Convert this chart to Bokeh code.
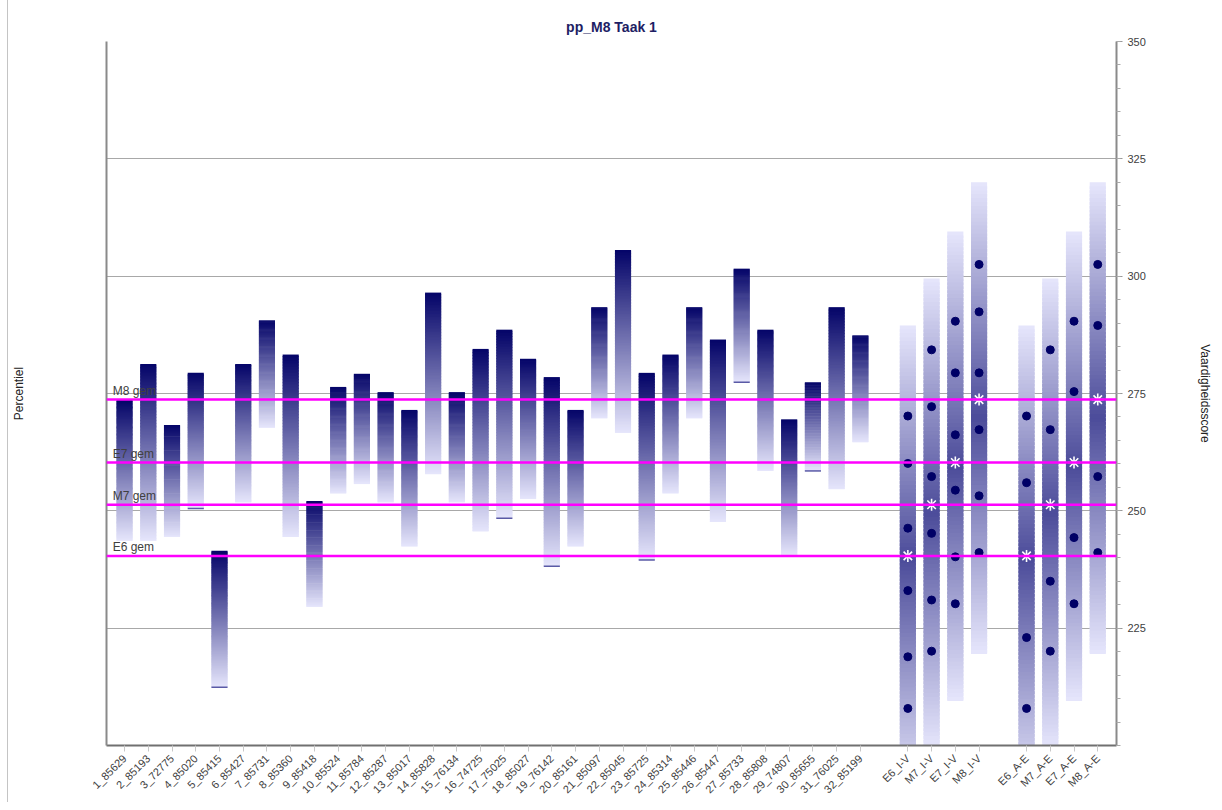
import math
from bokeh.plotting import figure
from bokeh.models import FixedTicker, LinearAxis, Range1d, Span
from bokeh.embed import file_html
from bokeh.resources import INLINE
from bokeh.core.properties import value

# ---------------- data ----------------
students = ["1_85629", "2_85193", "3_72775", "4_85020", "5_85415", "6_85427", "7_85731", "8_85360",
            "9_85418", "10_85524", "11_85784", "12_85287", "13_85017", "14_85828", "15_76134", "16_74725",
            "17_75025", "18_85027", "19_76142", "20_85161", "21_85097", "22_85045", "23_85725", "24_85314",
            "25_85446", "26_85447", "27_85733", "28_85808", "29_74807", "30_85655", "31_76025", "32_85199"]
student_top = [273.6, 281.3, 268.3, 279.4, 241.5, 281.3, 290.6, 283.3,
               252.1, 276.4, 279.2, 275.3, 271.5, 296.5, 275.3, 284.5,
               288.6, 282.4, 278.5, 271.5, 293.4, 305.6, 279.4, 283.3,
               293.4, 286.5, 301.6, 288.6, 269.5, 277.4, 293.4, 287.4]
student_bottom = [243.6, 243.6, 244.4, 250.5, 212.4, 251.8, 267.7, 244.4,
                  229.5, 253.7, 255.7, 251.8, 242.4, 257.8, 251.8, 245.6,
                  248.4, 252.5, 238.2, 242.4, 269.7, 266.6, 239.5, 253.7,
                  269.7, 247.6, 277.4, 258.5, 240.4, 258.5, 254.6, 264.6]
student_base_mark = [False, False, False, True, True, False, False, False,
                     False, False, False, False, False, False, False, False,
                     True, False, True, False, False, False, True, False,
                     False, False, True, False, False, True, False, False]

groups_iv = ["E6_I-V", "M7_I-V", "E7_I-V", "M8_I-V"]
groups_ae = ["E6_A-E", "M7_A-E", "E7_A-E", "M8_A-E"]
group_top = [289.5, 299.5, 309.5, 320.0, 289.5, 299.5, 309.5, 320.0]
group_bottom = [190.0, 199.5, 209.5, 219.5, 190.0, 199.5, 209.5, 219.5]
group_dots = [
    [270.2, 260.1, 246.3, 233.0, 218.9, 207.9],
    [284.3, 272.2, 257.3, 245.2, 231.0, 220.1],
    [290.4, 279.4, 266.2, 254.4, 240.2, 230.2],
    [302.5, 292.4, 279.4, 267.3, 253.2, 241.1],
    [270.2, 256.0, 223.0, 207.9],
    [284.3, 267.3, 235.0, 220.1],
    [290.4, 275.4, 244.3, 230.2],
    [302.5, 289.5, 257.3, 241.1],
]
group_level = ["E6", "M7", "E7", "M8", "E6", "M7", "E7", "M8"]

mean_labels = ["M8 gem", "E7 gem", "M7 gem", "E6 gem"]
mean_values = [273.7, 260.3, 251.3, 240.4]

y_ticks = [225, 250, 275, 300, 325, 350]

# ---------------- positions (categorical slots, one empty slot between blocks) ----------------
x_student = [i + 1 for i in range(len(students))]
x_iv = [len(students) + 2 + i for i in range(len(groups_iv))]
x_ae = [x_iv[-1] + 2 + i for i in range(len(groups_ae))]
x_groups = x_iv + x_ae
group_names = groups_iv + groups_ae
mean_of = {lab.split()[0]: v for lab, v in zip(mean_labels, mean_values)}

BW = 0.68

def lerp(c1, c2, t):
    return "#%02x%02x%02x" % tuple(int(round(a + (b - a) * t)) for a, b in zip(c1, c2))

DARK = (4, 4, 104)
LIGHT = (230, 230, 252)
GMID = (76, 76, 154)

def gradient_slices(xs, tops, bots, colour_of_t, n=120):
    L, R, T, B, C = [], [], [], [], []
    for x, top, bot in zip(xs, tops, bots):
        h = (top - bot) / n
        for k in range(n):
            L.append(x - BW / 2); R.append(x + BW / 2)
            T.append(top - k * h)
            B.append(max(bot, top - (k + 1.7) * h))
            C.append(colour_of_t((k + 0.5) / n))
    return dict(left=L, right=R, top=T, bottom=B, fill_color=C)

p = figure(width=1214, height=802, x_range=Range1d(0.24, 42.79), y_range=Range1d(200, 350),
           output_backend="svg", toolbar_location=None, title="pp_M8 Taak 1",
           y_axis_location="right", min_border_left=98, min_border_right=106,
           min_border_top=41, min_border_bottom=57)
p.margin = (0, 0, 0, 7)
p.styles = {"border-left": "1px solid #c4c4c4"}
p.outline_line_color = None
p.background_fill_color = "white"
p.border_fill_color = "white"

p.title.align = "center"
p.title.vertical_align = "top"
p.title.text_font = "Liberation Sans"
p.title.text_font_size = "14px"
p.title.text_font_style = "bold"
p.title.text_color = "#1e1e64"
p.title.standoff = 10

# ---------------- student bars (vertical gradient dark -> light) ----------------
p.quad(line_color=None, **gradient_slices(x_student, student_top, student_bottom,
                                          lambda t: lerp(DARK, LIGHT, t)))

mx = [x for x, m in zip(x_student, student_base_mark) if m]
mb = [b for b, m in zip(student_bottom, student_base_mark) if m]
p.segment(x0=[x - BW / 2 for x in mx], x1=[x + BW / 2 for x in mx], y0=mb, y1=mb,
          line_color="#5a5aa6", line_width=1.5)

# ---------------- group bars (light ends, dark middle) ----------------
p.quad(line_color=None, **gradient_slices(x_groups, group_top, group_bottom,
                                          lambda t: lerp(GMID, LIGHT, abs(t - 0.5) * 2)))

# ---------------- mean lines ----------------
for v in mean_values:
    p.add_layout(Span(location=v, dimension="width", line_color="#ff00ff", line_width=2.5))
p.text(x=[0.5] * len(mean_labels), y=[v + 0.3 for v in mean_values], text=mean_labels,
       text_font=value("Liberation Sans"), text_font_size="12px", text_color="#404040",
       text_baseline="bottom", text_align="left")

# ---------------- dots & stars ----------------
dx, dy = [], []
for x, dots in zip(x_groups, group_dots):
    dx += [x] * len(dots); dy += dots
p.scatter(dx, dy, size=8, fill_color="#000066", line_color="#000066")
p.scatter(x_groups, [mean_of[g] for g in group_level], marker="asterisk", size=12,
          line_color="white", line_width=1.6)

# ---------------- axes ----------------
ya = p.yaxis[0]
ya.ticker = FixedTicker(ticks=y_ticks, minor_ticks=list(range(200, 351, 5)))
ya.axis_line_color = "#8a8a8a"
ya.axis_line_width = 2
ya.major_tick_in = 0
ya.major_tick_out = 6
ya.minor_tick_in = 0
ya.minor_tick_out = 4
ya.major_tick_line_color = "#999999"
ya.minor_tick_line_color = "#aaaaaa"
ya.major_label_text_font = "Liberation Sans"
ya.major_label_text_font_size = "11px"
ya.major_label_text_color = "#404040"
ya.axis_label = "Vaardigheidsscore"
ya.axis_label_text_font = "Liberation Sans"
ya.axis_label_text_font_size = "12px"
ya.axis_label_text_font_style = "normal"
ya.axis_label_text_color = "#222222"
ya.axis_label_standoff = 49

p.ygrid.ticker = FixedTicker(ticks=y_ticks[:-1])
p.ygrid.grid_line_color = "#a8a8a8"
p.xgrid.visible = False

left = LinearAxis(ticker=FixedTicker(ticks=[]), axis_label="Percentiel")
left.axis_line_color = "#8a8a8a"
left.axis_line_width = 2
left.major_tick_line_color = None
left.minor_tick_line_color = None
left.axis_label_text_font = "Liberation Sans"
left.axis_label_text_font_size = "12px"
left.axis_label_text_font_style = "normal"
left.axis_label_text_color = "#222222"
left.axis_label_standoff = 81
p.add_layout(left, "left")

xa = p.xaxis[0]
all_x = x_student + x_groups
all_names = students + group_names
xa.ticker = FixedTicker(ticks=all_x)
xa.major_label_overrides = {x: n for x, n in zip(all_x, all_names)}
xa.major_label_orientation = math.pi / 4
xa.major_tick_in = 0
xa.major_tick_out = 6
xa.major_tick_line_color = "#c8c8c8"
xa.minor_tick_line_color = None
xa.axis_line_color = "#707070"
xa.axis_line_width = 2
xa.major_label_text_font = "Liberation Sans"
xa.major_label_text_font_size = "11px"
xa.major_label_text_color = "#404040"

open("out.html", "w").write(file_html(p, INLINE))
